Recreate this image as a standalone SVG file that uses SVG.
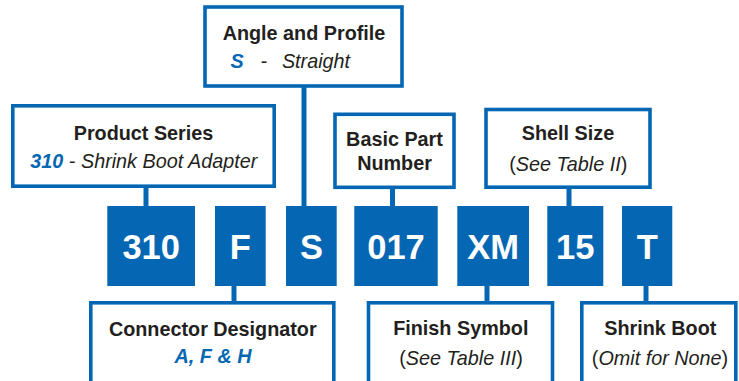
<svg xmlns="http://www.w3.org/2000/svg" width="739" height="381" viewBox="0 0 739 381">
<style>
.box{fill:#fff;stroke:#0567b3;stroke-width:3.6}
.blk{fill:#0567b3}
.con{stroke:#0567b3;stroke-width:5;fill:none}
.t{font-family:"Liberation Sans",Arial,sans-serif;font-size:19.8px;fill:#231f20;text-anchor:middle}
.b{font-weight:bold}
.i{font-style:italic}
.bl{fill:#0567b3;font-weight:bold;font-style:italic}
.bt{font-family:"Liberation Sans",Arial,sans-serif;font-size:34.5px;font-weight:bold;fill:#fff;text-anchor:middle}
</style>
<rect width="739" height="381" fill="#fff"/>
<g id="connectors">
<line class="con" x1="146" y1="186" x2="146" y2="207"/>
<line class="con" x1="304" y1="86" x2="304" y2="207"/>
<line class="con" x1="392.5" y1="187" x2="392.5" y2="207"/>
<line class="con" x1="569" y1="187" x2="569" y2="207"/>
<line class="con" x1="234" y1="285" x2="234" y2="303"/>
<line class="con" x1="487" y1="285" x2="487" y2="303"/>
<line class="con" x1="646" y1="285" x2="646" y2="303"/>
</g>
<g id="angle-profile">
<rect class="box" x="205" y="7" width="197" height="79"/>
<text class="t b" x="304" y="39.5">Angle and Profile</text>
<text class="t" y="67.5"><tspan class="bl" x="237">S</tspan><tspan x="264">-</tspan><tspan class="i" x="316">Straight</tspan></text>
</g>
<g id="product-series">
<rect class="box" x="12.8" y="105.8" width="261.4" height="80.4"/>
<text class="t b" x="143.5" y="139.5">Product Series</text>
<text class="t" x="143.8" y="167.5"><tspan class="bl">310</tspan><tspan class="i"> - Shrink Boot Adapter</tspan></text>
</g>
<g id="basic-part-number">
<rect class="box" x="335" y="114.3" width="119" height="73"/>
<text class="t b" x="394.5" y="145.8">Basic Part</text>
<text class="t b" x="394.5" y="169.5">Number</text>
</g>
<g id="shell-size">
<rect class="box" x="486" y="109.5" width="164" height="77.7"/>
<text class="t b" x="568" y="140">Shell Size</text>
<text class="t" x="568.3" y="170.8">(<tspan class="i">See Table II</tspan>)</text>
</g>
<g id="blk-310"><rect class="blk" x="107.3" y="206" width="87.7" height="80"/><text class="bt" x="151.2" y="258.5">310</text></g>
<g id="blk-F"><rect class="blk" x="215" y="206" width="50.7" height="80"/><text class="bt" x="240.4" y="258.5">F</text></g>
<g id="blk-S"><rect class="blk" x="286" y="206" width="50.7" height="80"/><text class="bt" x="311.4" y="258.5">S</text></g>
<g id="blk-017"><rect class="blk" x="354.3" y="206" width="83.4" height="80"/><text class="bt" x="396" y="258.5">017</text></g>
<g id="blk-XM"><rect class="blk" x="457.3" y="206" width="71.7" height="80"/><text class="bt" x="493.2" y="258.5">XM</text></g>
<g id="blk-15"><rect class="blk" x="547.3" y="206" width="56" height="80"/><text class="bt" x="575.3" y="258.5">15</text></g>
<g id="blk-T"><rect class="blk" x="622" y="206" width="50.3" height="80"/><text class="bt" x="647.2" y="258.5">T</text></g>
<g id="connector-designator">
<rect class="box" x="90.8" y="302.8" width="243" height="100"/>
<text class="t b" x="212.8" y="335.7">Connector Designator</text>
<text class="t bl" x="213" y="363.3">A, F &amp; H</text>
</g>
<g id="finish-symbol">
<rect class="box" x="368.5" y="302.8" width="184" height="100"/>
<text class="t b" x="460.8" y="335.3">Finish Symbol</text>
<text class="t" x="461" y="365">(<tspan class="i">See Table III</tspan>)</text>
</g>
<g id="shrink-boot">
<rect class="box" x="581.8" y="302.8" width="154" height="100"/>
<text class="t b" x="660.3" y="335.3">Shrink Boot</text>
<text class="t" x="660" y="365">(<tspan class="i">Omit for None</tspan>)</text>
</g>
</svg>
